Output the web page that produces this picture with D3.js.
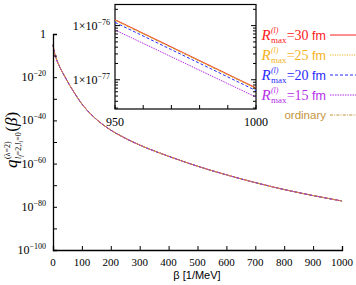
<!DOCTYPE html>
<html>
<head>
<meta charset="utf-8">
<script src="https://cdn.jsdelivr.net/npm/d3@7"></script>
<style>
  body { margin: 0; background: #fff; }
  svg { display: block; }
</style>
</head>
<body>
<svg id="chart" width="356" height="285"></svg>
<script>
// main curve: beta and log10 q (all five series overlap there)
var betaMain = [0, 5, 10, 20, 40, 60, 80, 100, 120, 150, 200, 250, 300, 400, 500, 600, 700, 800, 900, 1000];
var logqMain = [-5, -8.6, -10.9, -14.3, -19.5, -24.2, -28.5, -32.4, -35.6, -39.5, -44.5, -48.25, -51.4, -56.6, -61.2, -65.2, -68.8, -72.0, -74.8, -77.3];

// inset (beta 950..1000), log10 q per series
var betaInset = [950, 1000];
var logqR30 = [-75.89, -77.15];
var logqR25 = [-75.90, -77.16];
var logqR20 = [-75.94, -77.20];
var logqR15 = [-76.08, -77.32];
var logqOrd = [-75.90, -77.16];

var seriesNames = ["30", "25", "20", "15", "ordinary"];
var seriesColors = ["#ff2020", "#f5b21c", "#2a2aff", "#b52ee8", "#c4943a"];
var seriesDash = [null, "1.2,1.2", "3,2", "1.5,1", "3,1.2,1,1.2"];
var insetData = [logqR30, logqR25, logqR20, logqR15, logqOrd];

var mainYTicks = [0, -20, -40, -60, -80, -100];
var mainYMinor = [-10, -30, -50, -70, -90];
var mainXTicks = [0, 100, 200, 300, 400, 500, 600, 700, 800, 900, 1000];
var insetYLabels = [-76, -77];

var svg = d3.select("#chart");
var serif = "Liberation Serif, serif";
var sans = "Liberation Sans, Arial, sans-serif";

// ---------- main plot ----------
var x = d3.scaleLinear().domain([0, 1000]).range([53, 342]);
var y = d3.scaleLog().domain([1e-100, 1]).range([250, 34]);

var line = d3.line()
    .x(function(d) { return x(d[0]); })
    .y(function(d) { return y(Math.pow(10, d[1])); })
    .curve(d3.curveMonotoneX);

var mainPts = betaMain.map(function(b, i) { return [b, logqMain[i]]; });
seriesNames.forEach(function(n, i) {
    svg.append("path")
        .attr("d", line(mainPts))
        .attr("fill", "none")
        .attr("stroke", seriesColors[i])
        .attr("stroke-width", 1)
        .attr("stroke-dasharray", seriesDash[i]);
});

// axes (ticks point inward)
var yAxis = d3.axisLeft(y)
    .tickValues(mainYTicks.concat(mainYMinor).map(function(e) { return Math.pow(10, e); }))
    .tickSize(-4)
    .tickFormat("");
svg.append("g").attr("transform", "translate(53,0)").call(yAxis);

var xAxis = d3.axisBottom(x).tickValues(mainXTicks).tickSize(-4).tickFormat("");
svg.append("g").attr("transform", "translate(0,250)").call(xAxis);

svg.selectAll(".domain").attr("stroke", "#000").attr("stroke-width", 1.3);
svg.selectAll(".tick line").attr("stroke", "#000").attr("stroke-width", 1);

// y tick labels
mainYTicks.forEach(function(e) {
    var t = svg.append("text")
        .attr("x", 46).attr("y", y(Math.pow(10, e)) + 4)
        .attr("text-anchor", "end")
        .attr("font-family", serif).attr("font-size", 12);
    if (e === 0) {
        t.text("1");
    } else {
        t.append("tspan").text("10");
        t.append("tspan").attr("dy", -5).attr("font-size", 8).text("\u2212" + Math.abs(e));
    }
});

// x tick labels
mainXTicks.forEach(function(v) {
    svg.append("text")
        .attr("x", x(v)).attr("y", 266)
        .attr("text-anchor", "middle")
        .attr("font-family", serif).attr("font-size", 11)
        .text(v);
});

svg.append("text")
    .attr("x", 197).attr("y", 279)
    .attr("text-anchor", "middle")
    .attr("font-family", sans).attr("font-size", 11)
    .text("\u03b2 [1/MeV]");

// y axis label, built piece by piece then centred
var yl = svg.append("g").attr("transform", "translate(17,140) rotate(-90)");
var inner = yl.append("g");
var q = inner.append("text").attr("x", 0).attr("y", 0)
    .attr("font-family", serif).attr("font-size", 17).attr("font-style", "italic").text("q");
var cx = q.node().getComputedTextLength() + 0.5;
var sup = inner.append("text").attr("x", cx).attr("y", -7)
    .attr("font-family", serif).attr("font-size", 8).text("(\u03bb=2)");
var sub = inner.append("text").attr("x", cx).attr("y", 4)
    .attr("font-family", serif).attr("font-size", 8);
sub.append("tspan").attr("font-style", "italic").text("l");
sub.append("tspan").attr("font-size", 6).attr("font-style", "italic").attr("dy", 1.5).text("f");
sub.append("tspan").attr("dy", -1.5).text("=2,");
sub.append("tspan").attr("font-style", "italic").text("l");
sub.append("tspan").attr("font-size", 6).attr("font-style", "italic").attr("dy", 1.5).text("i");
sub.append("tspan").attr("dy", -1.5).text("=0");
cx += Math.max(sup.node().getComputedTextLength(), sub.node().getComputedTextLength()) + 0.5;
var tail = inner.append("text").attr("x", cx).attr("y", 0)
    .attr("font-family", serif).attr("font-size", 17);
tail.append("tspan").text("(");
tail.append("tspan").attr("font-style", "italic").text("\u03b2");
tail.append("tspan").text(")");
cx += tail.node().getComputedTextLength();
inner.attr("transform", "translate(" + (-cx / 2) + ",0)");

// ---------- inset ----------
var xi = d3.scaleLinear().domain([950, 1000]).range([115, 256]);
var yi = d3.scaleLog().domain([Math.pow(10, -77.54), Math.pow(10, -75.61)]).range([109, 4.5]);

svg.append("rect")
    .attr("x", 115).attr("y", 4.5).attr("width", 141).attr("height", 104.5)
    .attr("fill", "#fff").attr("stroke", "#000").attr("stroke-width", 1.2);

var insetLine = d3.line()
    .x(function(d) { return xi(d[0]); })
    .y(function(d) { return yi(Math.pow(10, d[1])); });

svg.append("clipPath").attr("id", "insetclip")
    .append("rect").attr("x", 115).attr("y", 4.5).attr("width", 141).attr("height", 104.5);

insetData.forEach(function(arr, i) {
    var pts = betaInset.map(function(b, k) { return [b, arr[k]]; });
    svg.append("path")
        .attr("d", insetLine(pts))
        .attr("clip-path", "url(#insetclip)")
        .attr("fill", "none")
        .attr("stroke", seriesColors[i])
        .attr("stroke-width", 1)
        .attr("stroke-dasharray", seriesDash[i]);
});

// inset ticks: log minor ticks on left and right, x ticks every 10 on bottom
var yiTicks = [];
[-78, -77, -76].forEach(function(e) {
    for (var m = 1; m <= 9; m++) {
        var v = m * Math.pow(10, e);
        var d = yi.domain();
        if (v >= d[0] && v <= d[1]) yiTicks.push({ v: v, major: m === 1 });
    }
});
yiTicks.forEach(function(t) {
    var len = t.major ? 5 : 3;
    svg.append("line").attr("x1", 115).attr("x2", 115 + len)
        .attr("y1", yi(t.v)).attr("y2", yi(t.v)).attr("stroke", "#000");
    svg.append("line").attr("x1", 256).attr("x2", 256 - len)
        .attr("y1", yi(t.v)).attr("y2", yi(t.v)).attr("stroke", "#000");
});
d3.range(950, 1001, 10).forEach(function(v) {
    svg.append("line").attr("x1", xi(v)).attr("x2", xi(v))
        .attr("y1", 109).attr("y2", 105).attr("stroke", "#000");
});

insetYLabels.forEach(function(e) {
    var t = svg.append("text")
        .attr("x", 110).attr("y", yi(Math.pow(10, e)) + 4)
        .attr("text-anchor", "end")
        .attr("font-family", serif).attr("font-size", 12);
    t.append("tspan").text("1\u00d710");
    t.append("tspan").attr("dy", -5).attr("font-size", 8).text("\u2212" + Math.abs(e));
});
[950, 1000].forEach(function(v) {
    svg.append("text")
        .attr("x", xi(v)).attr("y", 126)
        .attr("text-anchor", "middle")
        .attr("font-family", serif).attr("font-size", 12)
        .text(v);
});

// ---------- legend ----------
var legendY = [35, 55, 75, 95, 115];
seriesNames.forEach(function(n, i) {
    var ly = legendY[i];
    svg.append("line")
        .attr("x1", 330).attr("x2", 356)
        .attr("y1", ly).attr("y2", ly)
        .attr("stroke", seriesColors[i])
        .attr("stroke-width", 1)
        .attr("stroke-dasharray", seriesDash[i]);
    var g = svg.append("g").attr("fill", seriesColors[i]);
    if (n === "ordinary") {
        g.append("text").attr("x", 326).attr("y", ly + 4)
            .attr("text-anchor", "end")
            .attr("font-family", sans).attr("font-size", 11.5)
            .text("ordinary");
        return;
    }
    var inG = g.append("g");
    var r = inG.append("text").attr("x", 0).attr("y", ly + 5)
        .attr("font-family", serif).attr("font-size", 15).attr("font-style", "italic").text("R");
    var px = r.node().getComputedTextLength() + 0.3;
    var s1 = inG.append("text").attr("x", px).attr("y", ly - 2)
        .attr("font-family", serif).attr("font-size", 8).attr("font-style", "italic").text("(l)");
    var s2 = inG.append("text").attr("x", px).attr("y", ly + 8)
        .attr("font-family", serif).attr("font-size", 9).text("max");
    px += Math.max(s1.node().getComputedTextLength(), s2.node().getComputedTextLength()) + 0.3;
    var rest = inG.append("text").attr("x", px).attr("y", ly + 5)
        .attr("font-family", serif).attr("font-size", 14);
    rest.append("tspan").text("=" + n + " ");
    rest.append("tspan").attr("font-family", sans).attr("font-size", 12.5).text("fm");
    px += rest.node().getComputedTextLength();
    inG.attr("transform", "translate(" + (326 - px) + ",0)");
});
</script>
</body>
</html>
